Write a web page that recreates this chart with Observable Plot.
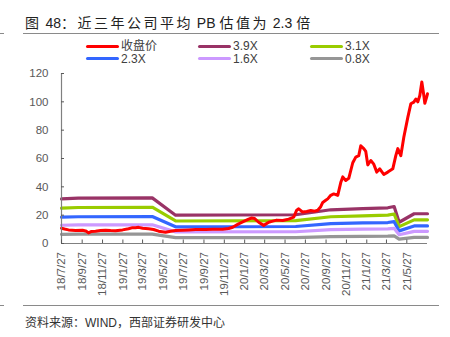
<!DOCTYPE html>
<html><head><meta charset="utf-8">
<script src="https://cdn.jsdelivr.net/npm/d3@7"></script>
<script src="https://cdn.jsdelivr.net/npm/@observablehq/plot@0.6"></script>
<style>
body{margin:0;width:450px;height:337px;background:#fff;font-family:"Liberation Sans","Noto Sans CJK SC",sans-serif;position:relative;overflow:hidden}
.abs{position:absolute}
#title{left:25px;top:13px;font-size:14px;line-height:18px;color:#222;white-space:nowrap}
#title .cjk{font-family:"Noto Sans CJK SC";letter-spacing:2.5px}
.rule{height:1px;background:#8a8a8a}
.leg{position:absolute;font-size:12px;line-height:14px;color:#404040;white-space:nowrap}
.leg i{position:absolute;height:3px;width:33px;border-radius:1.5px}
#source{left:25px;top:315px;font-size:12px;line-height:16px;color:#333;white-space:nowrap}
#chart{left:0;top:64px}
</style></head><body>
<div id="title" class="abs"><span class="cjk">图</span> 48<span class="cjk">：近三年公司平均</span> PB <span class="cjk">估值为</span> 2.3 <span class="cjk">倍</span></div>
<div class="abs rule" style="top:33px;left:23px;width:416px"></div>
<div class="abs rule" style="top:33px;left:0;width:4px"></div>
<div id="legend"></div>
<div id="chart" class="abs"></div>
<div class="abs rule" style="top:305px;left:23px;width:416px"></div>
<div class="abs rule" style="top:305px;left:0;width:4px"></div>
<div id="source" class="abs">资料来源：WIND，西部证券研发中心</div>
<script>
// ---- data ----
const seriesNames = ["收盘价", "3.9X", "3.1X", "2.3X", "1.6X", "0.8X"];
const seriesColors = ["#ff0000", "#993366", "#99cc00", "#3366ff", "#cc99ff", "#969696"];

const priceDates = ["2018-07-27","2018-08-05","2018-08-17","2018-09-07","2018-09-28","2018-10-10","2018-10-16","2018-10-25","2018-11-06","2018-11-21","2018-12-06","2018-12-21","2019-01-05","2019-01-26","2019-02-13","2019-02-25","2019-03-06","2019-03-15","2019-03-27","2019-04-14","2019-04-29","2019-05-14","2019-06-04","2019-06-19","2019-07-04","2019-07-25","2019-08-12","2019-09-02","2019-10-02","2019-10-23","2019-11-22","2019-12-10","2019-12-22","2020-01-06","2020-01-21","2020-02-08","2020-02-17","2020-02-26","2020-03-09","2020-03-24","2020-04-08","2020-04-20","2020-05-02","2020-05-20","2020-06-07","2020-06-22","2020-07-01","2020-07-07","2020-07-19","2020-07-31","2020-08-12","2020-08-24","2020-09-02","2020-09-11","2020-09-17","2020-09-26","2020-10-02","2020-10-11","2020-10-20","2020-11-01","2020-11-10","2020-11-16","2020-11-25","2020-12-04","2020-12-16","2020-12-25","2021-01-03","2021-01-09","2021-01-18","2021-01-24","2021-01-30","2021-02-08","2021-02-17","2021-02-26","2021-03-07","2021-03-19","2021-03-31","2021-04-15","2021-04-24","2021-04-30","2021-05-09","2021-05-18","2021-05-30","2021-06-08","2021-06-17","2021-06-23","2021-06-29","2021-07-05","2021-07-11","2021-07-17","2021-07-20","2021-07-25","2021-07-28"];
const priceValues = [10.8,10.2,9.6,9.2,9.4,8.6,7.5,8.5,8.7,9.2,9.4,9.1,9.0,9.6,10.4,11.2,11.1,11.4,10.8,10.4,9.9,8.7,8.0,8.6,9.2,9.4,9.6,9.8,9.9,10.0,10.1,10.6,11.5,13.5,15.2,17.2,18.0,17.6,15.0,12.8,15.0,15.8,16.5,16.2,17.2,18.6,23.5,24.5,22.2,22.6,23.3,22.8,23.5,26,29,30.5,31.5,34,35,34,43,47,44.5,46,57,61,62,69,67,65,55.5,58.6,56,50.4,52.7,48.7,50.4,52.7,62,67,62,75,89,98.6,99.8,102,100,104.5,114,104.5,99,103,105.7];

const bandDates = ["2018-07-27","2018-09-15","2019-04-25","2019-07-04","2020-06-28","2020-10-11","2021-01-15","2021-03-31","2021-04-19","2021-05-04","2021-06-18","2021-07-28"];
const band39 = [31.5,32.0,32.2,20.0,20.3,23.8,24.6,25.2,26.1,15.0,21.0,21.0];
const band31 = [25.0,25.4,25.6,15.9,16.1,18.9,19.5,20.0,20.8,11.9,16.7,16.7];
const band23 = [18.6,18.9,19.0,11.8,12.0,14.0,14.5,14.8,15.4,8.9,12.4,12.4];
const band16 = [12.9,13.1,13.2,8.2,8.3,9.8,10.1,10.3,10.7,6.2,8.6,8.6];
const band08 = [6.5,6.6,6.6,4.1,4.2,4.9,5.0,5.2,5.4,3.1,4.3,4.3];

const xTickDates = ["2018-07-27","2018-09-27","2018-11-27","2019-01-27","2019-03-27","2019-05-27","2019-07-27","2019-09-27","2019-11-27","2020-01-27","2020-03-27","2020-05-27","2020-07-27","2020-09-27","2020-11-27","2021-01-27","2021-03-27","2021-05-27"];
const yTicks = [0, 20, 40, 60, 80, 100, 120];
const xDomain = ["2018-07-27", "2021-07-28"];

// ---- build ----
const parse = d3.utcParse("%Y-%m-%d");
const rows = [];
const bands = [band39, band31, band23, band16, band08];
bands.forEach((vals, k) => vals.forEach((v, i) => rows.push({series: seriesNames[k + 1], date: parse(bandDates[i]), value: v})));
priceDates.forEach((d, i) => rows.push({series: seriesNames[0], date: parse(d), value: priceValues[i]}));
const fmt = d => `${d.getUTCFullYear() % 100}/${d.getUTCMonth() + 1}/${d.getUTCDate()}`;

// legend
const legend = document.getElementById("legend");
const legPos = [[86, 46], [198, 46], [310, 46], [86, 58.5], [198, 58.5], [310, 58.5]];
const legOrder = [0, 1, 2, 3, 4, 5];
legOrder.forEach((k, j) => {
  const [x, y] = legPos[j];
  const el = document.createElement("div");
  el.className = "leg";
  el.style.left = x + "px";
  el.style.top = (y - 7) + "px";
  el.style.paddingLeft = "35px";
  el.innerHTML = `<i style="left:0;top:5.5px;background:${seriesColors[k]}"></i>${seriesNames[k]}`;
  legend.appendChild(el);
});

const chart = Plot.plot({
  width: 450,
  height: 240,
  marginTop: 9,
  marginBottom: 61,
  marginLeft: 61,
  marginRight: 23,
  style: {fontFamily: "Liberation Sans, sans-serif", fontSize: "11.5px", background: "#fff", overflow: "visible"},
  x: {type: "utc", domain: xDomain.map(parse)},
  y: {domain: [0, 120]},
  color: {domain: seriesNames, range: seriesColors},
  marks: [
    Plot.line(rows.filter(r => r.series !== seriesNames[0]), {x: "date", y: "value", z: "series", stroke: "series", strokeWidth: 3.2, strokeLinejoin: "round"}),
    Plot.line(rows.filter(r => r.series === seriesNames[0]), {x: "date", y: "value", stroke: "series", strokeWidth: 3, strokeLinejoin: "round"}),
    Plot.ruleY([0], {stroke: "#808080", strokeWidth: 1.2}),
    Plot.ruleX([parse(xDomain[0])], {stroke: "#808080", strokeWidth: 1.2}),
    Plot.axisY({ticks: yTicks, tickSize: -3, tickPadding: 16, label: null, color: "#595959"}),
    Plot.axisX({ticks: xTickDates.map(parse), tickFormat: fmt, tickRotate: -90, tickSize: -3.5, tickPadding: 12, label: null, color: "#595959"})
  ]
});
document.getElementById("chart").appendChild(chart);
</script>
</body></html>
